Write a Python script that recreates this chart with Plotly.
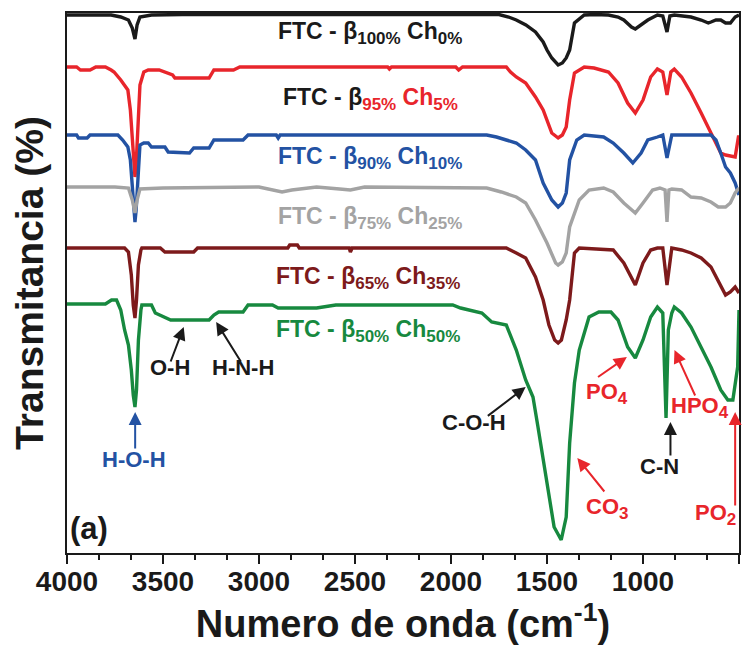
import plotly.graph_objects as go

# ---------------- data (wavenumber cm-1, offset transmittance a.u.) ----------------
w_100 = [4000, 3850, 3770, 3720, 3680, 3660, 3646, 3635, 3620, 3560, 3400, 3000, 2500, 2000, 1750, 1700, 1660,
         1610, 1560, 1520, 1500, 1475, 1450, 1442, 1420, 1400, 1382, 1357, 1306, 1250, 1180, 1130, 1100, 1060,
         1040, 1010, 975, 925, 897, 875, 860, 837, 800, 750, 697, 660, 646, 620, 595, 570, 545, 520, 500]
t_100 = [538, 538.5, 538, 536, 533, 525, 514, 528, 536, 538, 538.5, 538.5, 538.5, 538.5, 538.5, 536, 533,
         528, 521, 511, 503, 495, 489, 488, 490, 495, 503, 530, 538, 538.5, 538, 536, 533, 526,
         524, 528, 533, 538, 537, 521, 537, 538, 537, 536, 533, 530, 531, 533, 533, 530, 530, 536, 538]

w_95 = [4000, 3950, 3930, 3880, 3850, 3800, 3770, 3755, 3720, 3700, 3683, 3670, 3660, 3650, 3646, 3640, 3630,
        3620, 3600, 3577, 3520, 3490, 3450, 3438, 3300, 3260, 3235, 3133, 3100, 2330, 2321, 2310, 1975, 1960,
        1940, 1712, 1690, 1660, 1611, 1560, 1520, 1500, 1475, 1442, 1420, 1400, 1382, 1357, 1306, 1255, 1180,
        1130, 1080, 1040, 1000, 960, 925, 897, 875, 855, 837, 799, 750, 697, 646, 595, 570, 520, 503, 500]
t_95 = [486, 486, 483, 483, 486, 486, 483, 481, 473, 468, 463, 443, 413, 383, 376, 388, 433,
        468, 481, 483, 483, 481, 478, 475, 475, 475, 483, 483, 486, 486, 484, 486, 486, 483,
        486, 486, 481, 476, 470, 456, 443, 433, 420, 415, 418, 426, 453, 480, 486, 485, 481,
        470, 450, 440, 453, 476, 484, 481, 458, 481, 484, 476, 460, 440, 420, 400, 398, 396, 416, 416]

w_90 = [4000, 3950, 3940, 3895, 3880, 3735, 3710, 3683, 3670, 3660, 3650, 3646, 3640, 3630, 3620, 3600, 3577,
        3560, 3490, 3473, 3362, 3340, 3260, 3235, 3083, 3057, 2910, 2900, 2890, 1814, 1763, 1712, 1660, 1611,
        1560, 1520, 1475, 1442, 1420, 1400, 1382, 1345, 1306, 1205, 1155, 1100, 1053, 1010, 975, 925, 897,
        875, 850, 646, 620, 595, 570, 545, 520, 500]
t_90 = [418, 418, 415, 415, 418, 418, 413, 406, 393, 363, 338, 331, 343, 383, 408, 410, 410,
        406, 406, 401, 400, 405, 405, 413, 413, 418, 418, 415, 418, 418, 416, 413, 410, 403,
        393, 370, 353, 346, 350, 360, 393, 413, 418, 416, 410, 400, 390, 400, 413, 416, 418,
        395, 418, 418, 413, 400, 386, 380, 370, 358]

w_75 = [4000, 3750, 3680, 3660, 3646, 3635, 3620, 3500, 3000, 2930, 2880, 2829, 2700, 2580, 2524, 2450, 1814,
        1738, 1660, 1611, 1560, 1500, 1455, 1442, 1420, 1400, 1382, 1332, 1281, 1205, 1155, 1100, 1040, 1000,
        950, 912, 885, 875, 865, 850, 799, 750, 697, 646, 608, 570, 545, 520, 500]
t_75 = [366, 366, 365, 353, 340, 353, 364, 365, 366, 363, 361, 363, 366, 364, 363, 366, 365,
        361, 356, 350, 333, 310, 290, 288, 291, 300, 326, 353, 363, 365, 361, 350, 340, 350,
        363, 365, 363, 331, 363, 364, 363, 356, 355, 351, 346, 346, 350, 360, 365]

w_65 = [4000, 3700, 3680, 3665, 3655, 3646, 3638, 3628, 3615, 3610, 3514, 3490, 3340, 3320, 2850, 2840, 2800,
        2790, 2530, 2524, 2515, 1712, 1660, 1611, 1560, 1520, 1490, 1460, 1442, 1425, 1400, 1382, 1357, 1332,
        1155, 1100, 1040, 1000, 960, 925, 897, 875, 850, 799, 750, 697, 646, 595, 570, 545, 520, 500]
t_65 = [305, 305, 301, 278, 248, 235, 253, 288, 303, 305, 305, 301, 301, 305, 305, 308, 308,
        305, 305, 301, 305, 305, 300, 295, 276, 253, 228, 213, 210, 213, 233, 253, 300, 305,
        303, 290, 268, 290, 303, 305, 305, 268, 305, 303, 300, 295, 286, 266, 258, 261, 266, 260]

w_50 = [4000, 3800, 3768, 3742, 3720, 3700, 3680, 3665, 3655, 3646, 3638, 3628, 3615, 3610, 3560, 3540, 3460,
        3260, 3235, 3210, 3083, 3057, 2930, 2900, 2700, 2600, 1991, 1950, 1839, 1788, 1712, 1660, 1611, 1573,
        1547, 1500, 1463, 1426, 1400, 1382, 1357, 1332, 1281, 1230, 1167, 1130, 1080, 1040, 1000, 960, 925,
        897, 880, 868, 850, 837, 799, 750, 697, 646, 595, 558, 532, 507, 500]
t_50 = [249, 249, 253, 253, 243, 223, 208, 183, 158, 146, 163, 213, 243, 248, 248, 240, 233,
        233, 238, 241, 241, 248, 248, 245, 245, 248, 248, 245, 240, 231, 228, 203, 173, 156,
        126, 70, 26, 13, 36, 110, 170, 203, 236, 241, 241, 233, 206, 195, 213, 236, 246,
        240, 135, 223, 240, 246, 240, 226, 206, 186, 163, 153, 153, 186, 243]

tick_vals = [4000, 3500, 3000, 2500, 2000, 1500, 1000, 500]
tick_text = ["4000", "3500", "3000", "2500", "2000", "1500", "1000", "500"]

RED = "#e8252b"
BLUE = "#2352a3"
GRAY = "#a3a3a3"
DRED = "#7d1a1b"
GREEN = "#17893f"
BLACK = "#1a1a1a"

series = [
    (w_100, t_100, BLACK),
    (w_95, t_95, RED),
    (w_90, t_90, BLUE),
    (w_75, t_75, GRAY),
    (w_65, t_65, DRED),
    (w_50, t_50, GREEN),
]

fig = go.Figure()
for wx, ty, col in series:
    fig.add_trace(go.Scatter(x=wx, y=ty, mode="lines", line=dict(color=col, width=3.4),
                             showlegend=False, hoverinfo="skip"))

FONT = "Liberation Sans, Arial, sans-serif"
anns = []

def sub(t):
    return "<sub><span style='font-size:17px'>%s</span></sub>" % t

def label(x, y, text, color, size=23):
    anns.append(dict(x=x, y=y, xref="x", yref="y", text=text, showarrow=False,
                     font=dict(family=FONT, size=size, color=color, weight="bold"),
                     xanchor="center", yanchor="middle"))

def arrow(x0, y0, x1, y1, color):
    anns.append(dict(x=x1, y=y1, ax=x0, ay=y0, xref="x", yref="y", axref="x", ayref="y",
                     text="", showarrow=True, arrowhead=2, arrowsize=1.3, arrowwidth=2,
                     arrowcolor=color, standoff=0, startstandoff=0))

# curve labels
label(2420, 520, "FTC - β" + sub("100%") + " Ch" + sub("0%"), BLACK)
label(2420, 454, "FTC - β<span style='color:%s'>" % RED + sub("95%") + " Ch" + sub("5%") + "</span>", BLACK)
label(2420, 395, "FTC - β" + sub("90%") + " Ch" + sub("10%"), BLUE)
label(2420, 335, "FTC - β" + sub("75%") + " Ch" + sub("25%"), GRAY)
label(2430, 275, "FTC - β" + sub("65%") + " Ch" + sub("35%"), DRED)
label(2430, 222, "FTC - β" + sub("50%") + " Ch" + sub("50%"), GREEN)

# band assignments
label(3466, 186, "O-H", BLACK, 22)
label(3081, 186, "H-N-H", BLACK, 22)
label(3651, 94, "H-O-H", BLUE, 22)
label(1879, 131, "C-O-H", BLACK, 22)
label(1189, 160, "PO" + sub("4"), RED, 22)
label(1189, 45, "CO" + sub("3"), RED, 22)
label(915, 87, "C-N", BLACK, 22)
label(704, 146, "HPO" + sub("4"), RED, 22)
label(620, 39, "PO" + sub("2"), RED, 22)
label(3888, 25, "(a)", BLACK, 31)

arrow(3463, 190, 3392, 226, BLACK)
arrow(3090, 190, 3223, 231, BLACK)
arrow(3645, 103, 3645, 141, BLUE)
arrow(1816, 136, 1611, 166, BLACK)
arrow(1242, 175, 1084, 196, RED)
arrow(1195, 60, 1342, 95, RED)
arrow(857, 96, 857, 131, BLACK)
arrow(725, 156, 836, 203, RED)
arrow(520, 46, 520, 141, RED)

# the page body adds an 8 px offset, so the figure is 8 px smaller and margins shifted
fig.update_layout(
    width=746, height=640,
    margin=dict(l=59, r=15, t=5, b=95, autoexpand=False),
    paper_bgcolor="white", plot_bgcolor="white",
    annotations=anns,
    showlegend=False,
)
fig.update_xaxes(
    automargin=False,
    range=[4000, 500], showgrid=False, zeroline=False,
    showline=True, mirror=True, linewidth=2, linecolor=BLACK,
    ticks="outside", ticklen=9, tickwidth=2, tickcolor=BLACK,
    tickvals=tick_vals, ticktext=tick_text, ticklabelstandoff=-7,
    tickfont=dict(family="Liberation Sans Narrow, Arial Narrow, Liberation Sans, Arial", size=28,
                  color=BLACK, weight="bold"),
    minor=dict(tickmode="linear", tick0=500, dtick=500 / 3, ticks="outside", ticklen=5, tickwidth=2,
               tickcolor=BLACK, showgrid=False),
    title=dict(text="Numero de onda (cm<sup>-1</sup>)", standoff=6,
               font=dict(family=FONT, size=38, color=BLACK, weight="bold")),
)
fig.update_yaxes(
    automargin=False,
    range=[0, 540], showgrid=False, zeroline=False, showticklabels=False, ticks="",
    showline=True, mirror=True, linewidth=2, linecolor=BLACK,
    title=dict(text="Transmitancia (%)", standoff=10,
               font=dict(family=FONT, size=39, color=BLACK, weight="bold")),
)

fig.write_html("out.html")
